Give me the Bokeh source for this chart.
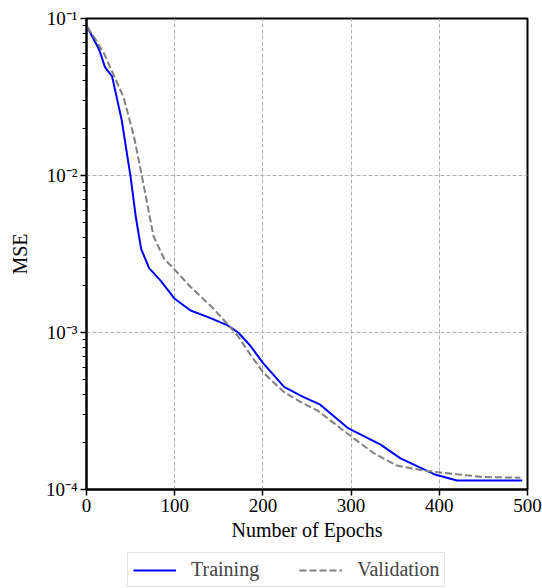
from bokeh.plotting import figure
from bokeh.layouts import column
from bokeh.models import FixedTicker, CustomJSTickFormatter, Legend, LegendItem
from bokeh.embed import file_html
from bokeh.resources import INLINE

# ---- data ----
train_epochs = [1, 14, 21, 29, 40, 50, 56, 62, 71, 84, 100, 118, 140, 160, 172,
                186, 200, 224, 245, 265, 297, 333, 356, 396, 420, 494]
train_mse = [0.088, 0.064, 0.049, 0.0428, 0.0224, 0.0098, 0.0054, 0.0034, 0.00257,
             0.00214, 0.00164, 0.00138, 0.00124, 0.00111, 0.00100, 0.00082, 0.00064,
             0.00045, 0.00039, 0.000347, 0.000245, 0.000194, 0.000158, 0.000124,
             0.000114, 0.000114]

val_epochs = [1, 10, 20, 31, 42, 54, 63, 76, 88, 101, 118, 144, 171, 186, 201,
              224, 243, 262, 299, 326, 352, 382, 420, 450, 492]
val_mse = [0.088, 0.074, 0.0596, 0.0434, 0.0316, 0.0175, 0.0098, 0.0041, 0.00295,
           0.00248, 0.00195, 0.00142, 0.00096, 0.00072, 0.00055, 0.000417, 0.00036,
           0.000318, 0.00022, 0.00017, 0.000142, 0.000132, 0.000125, 0.00012, 0.000119]

x_ticks = [0, 100, 200, 300, 400, 500]
y_ticks = [1e-4, 1e-3, 1e-2, 1e-1]
series_labels = ["Training", "Validation"]
x_label = "Number of Epochs"
y_label = "MSE"

FONT = "Liberation Serif"
TRAIN_STYLE = dict(color="#0000ff", line_width=2)
VAL_STYLE = dict(color="#808080", line_width=2, line_dash="7 3")

p = figure(width=542, height=548, y_axis_type="log",
           x_range=(0, 500), y_range=(1e-4, 1e-1),
           output_backend="svg", toolbar_location=None,
           min_border_left=86, min_border_right=15,
           min_border_top=18, min_border_bottom=59)
p.background_fill_color = "white"
p.border_fill_color = "white"
p.outline_line_color = "black"
p.outline_line_width = 2

p.line(train_epochs, train_mse, **TRAIN_STYLE)
p.line(val_epochs, val_mse, **VAL_STYLE)

# axes
p.xaxis.ticker = FixedTicker(ticks=x_ticks, minor_ticks=[])
minor = [k * 10.0 ** e for e in range(-4, -1) for k in range(2, 10)]
p.yaxis.ticker = FixedTicker(ticks=y_ticks, minor_ticks=minor)
p.yaxis.formatter = CustomJSTickFormatter(code="""
const e = Math.round(Math.log10(tick));
const sup = {'-':'\u207b','0':'\u2070','1':'\u00b9','2':'\u00b2','3':'\u00b3','4':'\u2074',
             '5':'\u2075','6':'\u2076','7':'\u2077','8':'\u2078','9':'\u2079'};
return '10' + String(e).split('').map(c => sup[c]).join('');
""")

for ax in (p.xaxis[0], p.yaxis[0]):
    ax.axis_line_color = "black"
    ax.axis_line_width = 2
    ax.major_tick_in = 0
    ax.major_tick_out = 6
    ax.minor_tick_in = 0
    ax.minor_tick_out = 4
    ax.major_tick_line_width = 1.5
    ax.minor_tick_line_width = 1
    ax.major_tick_line_color = "black"
    ax.minor_tick_line_color = "black"
    ax.major_label_text_font = FONT
    ax.major_label_text_font_size = "19px"
    ax.major_label_text_color = "black"
    ax.axis_label_text_font = FONT
    ax.axis_label_text_font_size = "20px"
    ax.axis_label_text_font_style = "normal"
    ax.axis_label_text_color = "black"
    ax.major_label_standoff = 3

p.xaxis.axis_label = x_label
p.yaxis.axis_label = y_label
p.xaxis.axis_label_standoff = 4
p.yaxis.axis_label_standoff = 12

for g in (p.xgrid[0], p.ygrid[0]):
    g.grid_line_color = "#b0b0b0"
    g.grid_line_width = 1
    g.grid_line_dash = "4 2"

# ---- legend strip below the plot (proxy renderers kept outside its view) ----
p2 = figure(width=542, height=40, x_range=(0, 1), y_range=(0, 1),
            output_backend="svg", toolbar_location=None, min_border=0)
p2.axis.visible = False
p2.grid.visible = False
p2.outline_line_color = None
p2.background_fill_color = "white"
p2.border_fill_color = "white"
lr_train = p2.line(x=[-2, -1], y=[-2, -2], **TRAIN_STYLE)
lr_val = p2.line(x=[-2, -1], y=[-2, -2], **VAL_STYLE)

legend = Legend(items=[LegendItem(label=series_labels[0], renderers=[lr_train]),
                       LegendItem(label=series_labels[1], renderers=[lr_val])],
                orientation="horizontal", location=(41, 1),
                label_text_font=FONT, label_text_font_size="20px",
                glyph_width=43, glyph_height=20, label_standoff=15, spacing=40,
                padding=5, margin=0,
                border_line_color="#cccccc", border_line_width=1,
                background_fill_color="white")
p2.add_layout(legend, "center")

layout = column(p, p2, spacing=0)
open("out.html", "w").write(file_html(layout, INLINE))
